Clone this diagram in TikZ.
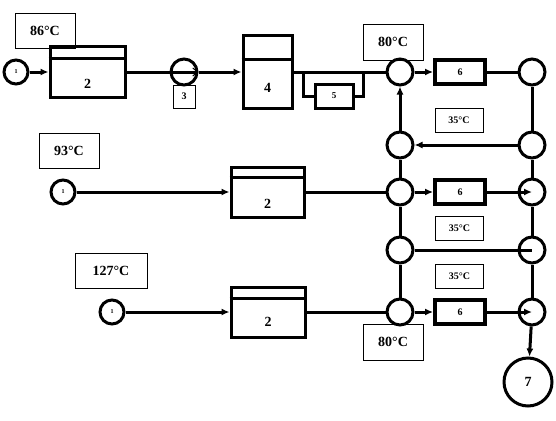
\documentclass[tikz,border=0pt]{standalone}
\usepackage{fontspec}
\setmainfont{Liberation Serif}
\usepackage{tikz}
\usetikzlibrary{arrows.meta,calc}

\begin{document}
\begin{tikzpicture}[x=1pt,y=-1pt,>={Latex[length=8pt,width=7pt]},
  flow/.style={line width=3pt},
  unit/.style={draw,line width=3pt,inner sep=0pt,font=\bfseries\fontsize{14}{14}\selectfont},
  heater/.style={draw,line width=3.8pt,inner sep=0pt,minimum width=50pt,minimum height=24pt,font=\bfseries\fontsize{10}{10}\selectfont},
  joint/.style={circle,draw,line width=3pt,inner sep=0pt,minimum size=26pt},
  source/.style={circle,draw,line width=3pt,inner sep=0pt,minimum size=24pt,font=\bfseries\fontsize{6}{6}\selectfont},
  tag/.style={draw,line width=0.9pt,inner sep=0pt,font=\bfseries\fontsize{14}{14}\selectfont},
  smalltag/.style={tag,minimum width=48pt,minimum height=24pt,font=\bfseries\fontsize{10}{10}\selectfont},
  boxlabel/.style={label={[font=\bfseries\fontsize{14}{14}\selectfont,yshift=#1]center:2}}]
\useasboundingbox (0,0) rectangle (556,420);

% ---------------- upper line ----------------
\node[source] (s1) at (16,72) {1};
\node[unit,minimum width=75pt,minimum height=50pt,boxlabel=-12pt] (dry1) at (87.5,72) {};
\draw[line width=3pt] ($(dry1.north west)+(0,13)$) -- ($(dry1.north east)+(0,13)$);
\node[tag,minimum width=60pt,minimum height=35pt] (t86) at (45,30.5) {86°C};
\node[joint] (c3) at (184,72) {};
\node[tag,minimum width=22pt,minimum height=23pt,font=\bfseries\fontsize{10}{10}\selectfont] (t3) at (184,96.5) {3};
\node[unit,minimum width=49pt,minimum height=72pt,
  label={[font=\bfseries\fontsize{14}{14}\selectfont,yshift=-16pt]center:4}] (tank) at (267.5,72) {};
\draw[line width=3pt] ($(tank.north west)+(0,25)$) -- ($(tank.north east)+(0,25)$);
\node[unit,minimum width=38pt,minimum height=24pt,font=\bfseries\fontsize{9}{9}\selectfont] (filt) at (334,96) {5};
\coordinate (bl) at (303,72);
\coordinate (br) at (363,72);

\draw[flow,->] (s1) -- (dry1);
\draw[flow,-{Straight Barb[length=5pt,width=8pt,line width=1pt]}] (dry1) -- (c3.east);
\draw[flow,->] (c3) -- (tank);
\draw[flow] (bl) |- (filt);
\draw[flow] (filt) -| (br);

% ---------------- middle and lower lines ----------------
\node[source] (s2) at (63,192) {1};
\node[tag,minimum width=60pt,minimum height=35pt] (t93) at (69,150.5) {93°C};
\node[unit,minimum width=73pt,minimum height=50pt,boxlabel=-12pt] (dry2) at (267.5,192) {};
\draw[line width=3pt] ($(dry2.north west)+(0,12)$) -- ($(dry2.north east)+(0,12)$);

\node[source] (s3) at (112,312) {1};
\node[tag,minimum width=72pt,minimum height=35pt] (t127) at (111,270.5) {127°C};
\node[unit,minimum width=74pt,minimum height=50pt,boxlabel=-10pt] (dry3) at (268,312) {};
\draw[line width=3pt] ($(dry3.north west)+(0,13)$) -- ($(dry3.north east)+(0,13)$);

\draw[flow,->] (s2) -- (dry2);
\draw[flow,->] (s3) -- (dry3);

% ---------------- mixing and heating ----------------
\foreach \n/\y in {1/72,2/145,3/192,4/250,5/312}{
  \node[joint] (a\n) at (400,\y) {};
  \node[joint] (b\n) at (532,\y) {};
}
\node[heater] (h1) at (460,72) {6};
\node[heater] (h2) at (460,192) {6};
\node[heater] (h3) at (460,312) {6};
\node[circle,draw,line width=3pt,inner sep=0pt,minimum size=48pt,font=\bfseries\fontsize{14}{14}\selectfont] (c7) at (528,382) {7};

\node[tag,minimum width=60pt,minimum height=36pt] (t80a) at (393,42) {80°C};
\node[tag,minimum width=60pt,minimum height=36pt] (t80b) at (393,342) {80°C};
\node[smalltag] (t35a) at (459,120) {35°C};
\node[smalltag] (t35b) at (459.5,228.5) {35°C};
\node[smalltag] (t35c) at (459.5,276) {35°C};

\draw[flow] (tank) -- (a1);
\draw[flow] (dry2) -- (a3);
\draw[flow] (dry3) -- (a5);

\draw[flow,->] (a1) -- (h1);
\draw[flow] (h1) -- (b1);
\draw[flow,->] (a3) -- (h2);
\draw[flow,->] (h2) -- (b3.center);
\draw[flow,->] (a5) -- (h3);
\draw[flow,->] (h3) -- (b5.center);
\draw[flow,->] (b2) -- (a2);
\draw[flow] (a4) -- (b4.center);

\draw[flow,->] (a2) -- (a1);
\draw[flow] (a2) -- (a3);
\draw[flow] (a3) -- (a4);
\draw[flow] (a4) -- (a5);
\draw[flow] (b1) -- (b2);
\draw[flow] (b2) -- (b3);
\draw[flow] (b3) -- (b4);
\draw[flow] (b4) -- (b5);
\draw[flow,->] (b5) -- (c7);

\end{tikzpicture}
\end{document}
